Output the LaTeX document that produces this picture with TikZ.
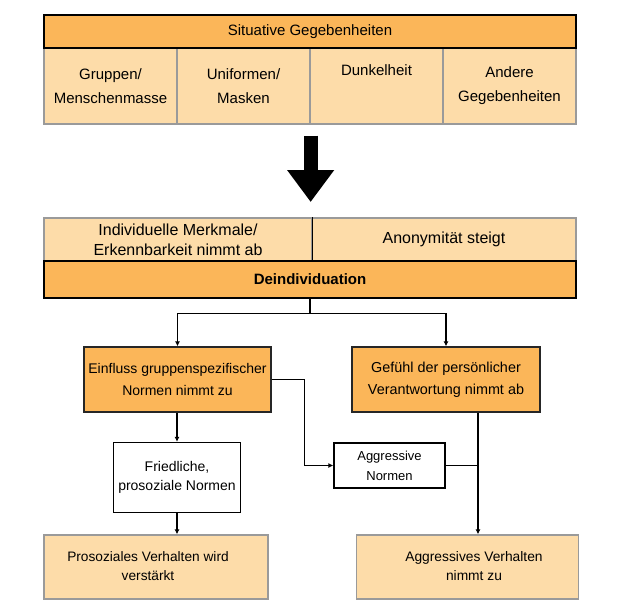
\documentclass[tikz,border=0pt]{standalone}
\usepackage{fontspec}
\setmainfont{Liberation Sans}
\usetikzlibrary{arrows.meta}
\definecolor{darkorange}{HTML}{FBB659}
\definecolor{lightorange}{HTML}{FDDCA9}
\definecolor{boxgray}{HTML}{9A9A9A}

\begin{document}
\begin{tikzpicture}[x=1pt, y=1pt, font=\fontsize{15}{24}\selectfont,
	strong/.style={draw=black!85, fill=darkorange, line width=1.3pt, inner sep=0pt, align=center},
	soft/.style={draw=boxgray, fill=lightorange, line width=1.3pt, inner sep=0pt, align=center},
	plain/.style={draw=black, fill=white, line width=1.3pt, inner sep=0pt, align=center},
	conn/.style={line width=1.2pt, -{Latex[length=5pt,width=5pt]}}]
	\useasboundingbox (0,0) rectangle (622,-614);

	% situative Gegebenheiten
	\node[soft, minimum width=133, minimum height=76] (cell1) at (110.5,-86) {Gruppen/\\Menschenmasse};
	\node[soft, minimum width=133, minimum height=76] (cell2) at (243.5,-86) {Uniformen/\\Masken};
	\node[soft, minimum width=133, minimum height=76] (cell3) at (376.5,-86) {Dunkelheit\\\strut};
	\node[soft, minimum width=133, minimum height=76] (cell4) at (509.5,-86) {Andere\\Gegebenheiten};
	\node[strong, draw=black, minimum width=532, minimum height=33] (sit) at (310,-31.5) {Situative Gegebenheiten};

	\draw[line width=14pt, -{Triangle[width=45pt,length=32pt]}] ([yshift=-11pt]cell2.south east) to ([yshift=16pt]cell2.south east |- 0,-218);

	% Deindividuation
	\node[soft, minimum width=268, minimum height=43, font=\fontsize{16}{20}\selectfont] (indiv) at (178,-239.5) {Individuelle Merkmale/\\Erkennbarkeit nimmt ab};
	\node[soft, minimum width=264, minimum height=43, font=\fontsize{16}{20}\selectfont] (anon) at (444,-239.5) {Anonymit\"at steigt};
	\node[strong, draw=black, minimum width=532, minimum height=37, font=\fontsize{15}{22}\selectfont\bfseries] (deind) at (310,-279.5) {Deindividuation};
	\draw[line width=1.2pt] (indiv.north east) to (indiv.south east);

	% Folgen
	\node[strong, minimum width=187, minimum height=65, font=\fontsize{14}{22}\selectfont] (einfluss) at (177.5,-379.5) {Einfluss gruppenspezifischer\\Normen nimmt zu};
	\node[strong, minimum width=188, minimum height=65, font=\fontsize{14.4}{22}\selectfont] (gefuehl) at (446,-379.5) {Gef\"uhl der pers\"onlicher\\Verantwortung nimmt ab};
	\node[plain, minimum width=127, minimum height=70, font=\fontsize{14}{19}\selectfont] (fried) at (177,-477.5) {\raisebox{-6pt}{\begin{tabular}{@{}c@{}}Friedliche,\\prosoziale Normen\end{tabular}}};
	\node[plain, minimum width=111, minimum height=45, font=\fontsize{13}{20}\selectfont] (aggn) at (389.5,-465.5) {Aggressive\\Normen};
	\node[soft, minimum width=224, minimum height=64, font=\fontsize{13.7}{19}\selectfont] (prosoz) at (156,-567) {\begin{tabular}{@{}c@{}}Prosoziales Verhalten wird\\verst\"arkt\end{tabular}\hspace*{16pt}};
	\node[soft, minimum width=222, minimum height=64, font=\fontsize{13.8}{19}\selectfont] (aggv) at (467.5,-567) {\hspace*{13pt}\begin{tabular}{@{}c@{}}Aggressives Verhalten\\nimmt zu\end{tabular}};

	\draw[line width=1.2pt] (deind.south) to ++(0,-15) coordinate (split);
	\draw[conn] (split) -| (einfluss.north);
	\draw[conn] (split) -| (gefuehl.north);
	\draw[conn] (einfluss.south -| fried.north) to (fried.north);
	\draw[conn] (fried.south) to (fried.south |- prosoz.north);
	\draw[conn] (einfluss.east) -- ++(33,0) |- (aggn.west);
	\draw[conn] ([xshift=32pt]gefuehl.south) coordinate (g) to (g |- aggv.north);
	\draw[line width=1.2pt] (aggn.east) to (aggn.east -| g);
\end{tikzpicture}
\end{document}
